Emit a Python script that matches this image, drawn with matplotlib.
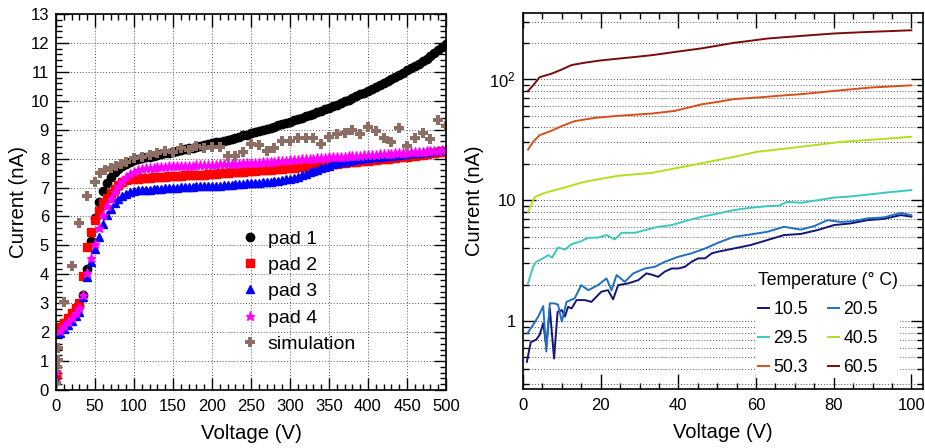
import matplotlib
matplotlib.use("Agg")
import matplotlib.pyplot as plt
from matplotlib.ticker import MultipleLocator, LogLocator, NullFormatter, FuncFormatter
import numpy as np

plt.rcParams['font.family'] = ['Liberation Sans', 'DejaVu Sans']

# ---- left panel: pads vs simulation ----
pad_voltage = list(range(0, 505, 5))

pad1 = [0.50, 2.10, 2.25, 2.40, 2.55, 2.70, 2.90, 3.30, 4.20, 5.15,
        5.95, 6.50, 6.88, 7.15, 7.35, 7.52, 7.65, 7.75, 7.83, 7.90,
        7.95, 7.99, 8.02, 8.05, 8.07, 8.10, 8.13, 8.16, 8.18, 8.21,
        8.24, 8.27, 8.29, 8.32, 8.35, 8.38, 8.41, 8.44, 8.47, 8.50,
        8.53, 8.56, 8.59, 8.62, 8.66, 8.69, 8.73, 8.76, 8.80, 8.83,
        8.87, 8.91, 8.95, 8.99, 9.03, 9.07, 9.11, 9.15, 9.19, 9.23,
        9.28, 9.32, 9.37, 9.41, 9.46, 9.50, 9.55, 9.60, 9.65, 9.70,
        9.76, 9.81, 9.87, 9.92, 9.98, 10.04, 10.10, 10.16, 10.22, 10.28,
        10.35, 10.41, 10.48, 10.55, 10.62, 10.69, 10.76, 10.83, 10.90, 10.97,
        11.05, 11.12, 11.20, 11.28, 11.37, 11.46, 11.55, 11.65, 11.75, 11.86,
        11.97]

pad2 = [0.52, 2.19, 2.33, 2.48, 2.65, 2.82, 3.02, 3.94, 4.96, 5.47,
        5.88, 6.19, 6.45, 6.65, 6.82, 6.95, 7.09, 7.18, 7.25, 7.29,
        7.30, 7.31, 7.32, 7.33, 7.34, 7.35, 7.36, 7.37, 7.38, 7.39,
        7.40, 7.40, 7.41, 7.42, 7.42, 7.43, 7.44, 7.44, 7.45, 7.46,
        7.47, 7.48, 7.49, 7.50, 7.51, 7.52, 7.53, 7.54, 7.55, 7.56,
        7.57, 7.58, 7.59, 7.60, 7.61, 7.62, 7.63, 7.64, 7.65, 7.66,
        7.67, 7.68, 7.70, 7.71, 7.72, 7.74, 7.75, 7.76, 7.78, 7.79,
        7.80, 7.82, 7.83, 7.84, 7.85, 7.87, 7.88, 7.90, 7.91, 7.92,
        7.93, 7.95, 7.96, 7.97, 7.99, 8.00, 8.01, 8.03, 8.04, 8.06,
        8.07, 8.09, 8.10, 8.12, 8.14, 8.16, 8.18, 8.20, 8.22, 8.24,
        8.26]

pad3 = [0.35, 1.98, 2.12, 2.26, 2.40, 2.55, 2.71, 3.23, 3.92, 4.44,
        4.88, 5.30, 5.73, 6.05, 6.26, 6.46, 6.60, 6.70, 6.78, 6.84,
        6.88, 6.90, 6.91, 6.92, 6.93, 6.94, 6.95, 6.96, 6.97, 6.98,
        6.99, 7.00, 7.01, 7.02, 7.03, 7.03, 7.04, 7.04, 7.05, 7.05,
        7.06, 7.06, 7.07, 7.08, 7.09, 7.10, 7.11, 7.12, 7.13, 7.14,
        7.15, 7.16, 7.17, 7.18, 7.19, 7.20, 7.22, 7.24, 7.26, 7.28,
        7.31, 7.34, 7.38, 7.42, 7.47, 7.52, 7.57, 7.62, 7.67, 7.72,
        7.76, 7.80, 7.84, 7.87, 7.90, 7.93, 7.95, 7.97, 7.99, 8.01,
        8.02, 8.04, 8.05, 8.07, 8.08, 8.09, 8.10, 8.12, 8.13, 8.15,
        8.16, 8.18, 8.19, 8.21, 8.22, 8.24, 8.26, 8.27, 8.29, 8.30,
        8.32]

pad4 = [0.65, 2.05, 2.20, 2.35, 2.50, 2.65, 2.85, 3.30, 4.03, 4.55,
        5.05, 5.60, 6.05, 6.37, 6.60, 6.85, 7.05, 7.22, 7.36, 7.47,
        7.55, 7.60, 7.64, 7.66, 7.68, 7.69, 7.70, 7.71, 7.72, 7.73,
        7.74, 7.74, 7.75, 7.75, 7.76, 7.76, 7.77, 7.77, 7.78, 7.78,
        7.79, 7.79, 7.80, 7.80, 7.81, 7.81, 7.82, 7.83, 7.84, 7.84,
        7.85, 7.85, 7.86, 7.87, 7.88, 7.89, 7.90, 7.91, 7.92, 7.93,
        7.94, 7.95, 7.96, 7.97, 7.98, 7.99, 8.00, 8.01, 8.02, 8.03,
        8.04, 8.05, 8.06, 8.06, 8.07, 8.08, 8.09, 8.09, 8.10, 8.11,
        8.12, 8.13, 8.14, 8.15, 8.16, 8.16, 8.17, 8.18, 8.19, 8.20,
        8.21, 8.22, 8.23, 8.23, 8.24, 8.25, 8.26, 8.27, 8.28, 8.29,
        8.30]

sim_voltage = [0, 1, 2, 3, 10, 20, 30, 40, 50, 57, 63, 70, 77, 83, 90,
               100, 110, 120, 130, 140, 150, 160, 170, 180, 190,
               200, 210, 220, 230, 240, 250, 260, 270, 280, 290,
               300, 310, 320, 330, 340, 350, 360, 370, 380, 390,
               400, 410, 420, 430, 440, 450, 460, 470, 480, 490, 500]
sim_current = [0.25, 0.80, 1.05, 1.45, 3.05, 4.29, 5.77, 6.71, 7.18, 7.49,
               7.60, 7.66, 7.73, 7.80, 7.89,
               8.01, 8.06, 8.12, 8.18, 8.27, 8.22, 8.36, 8.31, 8.45, 8.38,
               8.39, 8.40, 8.09, 8.10, 8.24, 8.50, 8.47, 8.25, 8.36, 8.60,
               8.61, 8.70, 8.72, 8.72, 8.50, 8.76, 8.84, 8.88, 8.99, 8.84,
               9.11, 8.96, 8.70, 8.57, 9.06, 8.42, 8.70, 8.88, 8.67, 9.34, 9.13]

# ---- right panel: temperature scan ----
v_105 = [1.0, 2.0, 3.4, 4.3, 5.2, 6.0, 6.9, 8.0, 8.9, 10.0,
         10.8, 11.6, 12.5, 13.8, 15.9, 17.6, 20.2, 21.9, 23.2, 24.5,
         27.1, 29.7, 31.8, 33.5, 34.8, 36.5, 38.3, 40.0, 41.7, 43.4,
         45.1, 46.9, 48.6, 50.3, 54.3, 58.6, 62.9, 67.2, 71.5, 75.8,
         80.1, 84.4, 88.7, 93.0, 97.3, 100]
i_105 = [0.46, 0.67, 0.70, 0.77, 0.96, 0.62, 1.27, 0.49, 1.19, 1.23,
         1.09, 1.31, 1.27, 1.49, 1.49, 1.44, 1.75, 1.80, 1.51, 1.98,
         2.05, 2.18, 2.48, 2.40, 2.32, 2.56, 2.72, 2.72, 2.81, 3.09,
         3.30, 3.30, 3.63, 3.75, 3.98, 4.25, 4.67, 5.14, 5.25, 5.65,
         6.22, 6.42, 6.83, 7.00, 7.52, 7.30]

v_205 = [1.1, 2.6, 4.0, 5.2, 6.0, 6.9, 8.0, 9.0, 10.0, 11.2,
         13.3, 15.0, 16.8, 19.3, 21.5, 22.8, 24.1, 26.2, 28.4, 31.4,
         34.0, 36.5, 40.0, 43.4, 46.9, 50.3, 54.3, 58.6, 62.9, 67.2,
         71.5, 75.0, 78.4, 81.8, 85.0, 88.7, 93.0, 97.3, 100]
i_205 = [0.79, 0.93, 1.10, 1.33, 0.56, 1.40, 1.40, 1.37, 0.99, 1.44,
         1.54, 1.98, 1.80, 1.98, 2.25, 1.80, 2.40, 2.11, 2.48, 2.72,
         2.81, 3.09, 3.40, 3.63, 3.98, 4.45, 4.97, 5.20, 5.47, 6.02,
         5.70, 6.10, 6.83, 6.60, 6.70, 7.06, 7.20, 7.85, 7.50]

v_295 = [1.3, 2.6, 3.4, 5.2, 6.5, 7.5, 9.0, 10.8, 12.5, 14.6,
         16.8, 19.3, 21.5, 23.6, 25.4, 28.8, 31.4, 34.8, 38.3, 41.7,
         46.0, 50.3, 54.3, 58.0, 62.9, 66.0, 68.0, 71.5, 76.0, 80.1,
         84.0, 88.7, 94.0, 100]
i_295 = [2.05, 2.81, 3.09, 3.30, 3.51, 3.35, 4.06, 3.90, 4.33, 4.52,
         4.88, 4.90, 5.14, 4.73, 5.37, 5.37, 5.65, 6.02, 6.22, 6.70,
         7.28, 7.76, 8.27, 8.60, 8.92, 9.00, 9.68, 9.50, 10.0, 10.5,
         10.7, 11.1, 11.6, 12.1]

v_405 = [1.3, 3.0, 5.6, 9.9, 15.9, 24.5, 33.1, 39.1, 45.7, 54.3,
         60.3, 71.5, 81.8, 90.4, 100]
i_405 = [8.0, 10.6, 11.5, 12.5, 14.2, 15.9, 16.8, 18.3, 20.1, 22.8,
         25.1, 27.6, 30.3, 31.7, 33.4]

v_503 = [1.3, 2.6, 4.3, 7.3, 9.9, 13.3, 18.5, 24.5, 33.1, 39.1,
         46.0, 50.3, 54.3, 60.2, 66.0, 72.2, 80.8, 89.4, 100]
i_503 = [26.2, 30.3, 34.5, 37.4, 40.9, 45.0, 47.9, 49.8, 52.0, 54.7,
         62.0, 65.0, 68.5, 70.5, 73.0, 75.5, 80.5, 85.3, 89.0]

v_605 = [1.3, 2.6, 4.3, 7.3, 9.9, 12.5, 15.9, 20.0, 24.5, 29.0,
         33.1, 39.1, 46.0, 50.3, 54.3, 58.6, 62.9, 71.5, 80.1, 88.7, 100]
i_605 = [80, 89, 104, 111, 120, 131, 137, 143, 148, 153,
         158, 168, 180, 190, 200, 208, 217, 228, 239, 246, 254]

temp_labels = ['10.5', '20.5', '29.5', '40.5', '50.3', '60.5']
temp_colors = ['#14147a', '#1f70c0', '#3cc8be', '#b2df1e', '#d6501e', '#7a0c0c']


fig = plt.figure(figsize=(9.25, 4.48), dpi=100)
ax1 = fig.add_axes([56/925, 1 - 390/448, 390/925, 376/448])
ax2 = fig.add_axes([523/925, 1 - 389/448, 400/925, 376/448])

grid_kw = dict(color='#555555', linestyle=(0, (1, 2)), linewidth=0.7)

# ---- Left panel ----
ms = 6
ax1.plot(pad_voltage, pad1, 'o', color='black', ms=ms, label='pad 1')
ax1.plot(pad_voltage, pad2, 's', color='#ff0000', ms=ms, label='pad 2')
ax1.plot(pad_voltage, pad3, '^', color='#0000ff', ms=ms, label='pad 3')
ax1.plot(pad_voltage, pad4, '*', color='#ff00ff', ms=6.5, label='pad 4')
ax1.plot(sim_voltage, sim_current, 'P', color='#8c6e64', ms=7, mew=0, label='simulation')

ax1.set_xlim(0, 500)
ax1.set_ylim(0, 13)
ax1.xaxis.set_major_locator(MultipleLocator(50))
ax1.xaxis.set_minor_locator(MultipleLocator(10))
ax1.yaxis.set_major_locator(MultipleLocator(1))
ax1.yaxis.set_minor_locator(MultipleLocator(0.2))
ax1.grid(True, which='major', **grid_kw)
ax1.set_xlabel('Voltage (V)', fontsize=14.7, labelpad=7)
ax1.set_ylabel('Current (nA)', fontsize=14.7, labelpad=2)

ax1.legend(loc='center left', bbox_to_anchor=(0.472, 0.262), frameon=False,
           fontsize=14, handletextpad=0.43, labelspacing=0.45,
           handlelength=1.0, borderpad=0, borderaxespad=0)

# ---- Right panel ----
series = [(v_105, i_105), (v_205, i_205), (v_295, i_295),
          (v_405, i_405), (v_503, i_503), (v_605, i_605)]
for (v, i), lab, col in zip(series, temp_labels, temp_colors):
    ax2.plot(v, i, '-', color=col, lw=1.4, label=lab)

ax2.set_yscale('log')
ax2.set_xlim(0, 103)
ax2.set_ylim(0.274, 353)
ax2.xaxis.set_major_locator(MultipleLocator(20))
ax2.xaxis.set_minor_locator(MultipleLocator(5))
ax2.yaxis.set_major_locator(LogLocator(base=10, numticks=10))
ax2.yaxis.set_minor_locator(LogLocator(base=10, subs=np.arange(2, 10), numticks=20))
ax2.yaxis.set_minor_formatter(NullFormatter())
ax2.yaxis.set_major_formatter(FuncFormatter(
    lambda y, _: {1: '1', 10: '10', 100: r'$\mathregular{10^{2}}$'}.get(int(round(y)), '')))
ax2.yaxis.grid(True, which='both', **grid_kw)
ax2.set_xlabel('Voltage (V)', fontsize=14.5, labelpad=7)
ax2.set_ylabel('Current (nA)', fontsize=14.5, labelpad=4)

# row-wise order in the legend: 10.5 20.5 / 29.5 40.5 / 50.3 60.5
handles, labels = ax2.get_legend_handles_labels()
order = [0, 2, 4, 1, 3, 5]
leg = ax2.legend([handles[k] for k in order], [labels[k] for k in order],
                 loc='lower right', bbox_to_anchor=(0.9425, 0.03), ncol=2,
                 title='Temperature (° C)', title_fontsize=12.7, fontsize=12.7,
                 alignment='left',
                 frameon=True, fancybox=False, framealpha=1, edgecolor='none',
                 handlelength=0.63, handletextpad=0.23, columnspacing=1.14,
                 labelspacing=0.68, borderpad=0.1, borderaxespad=0)
leg.get_frame().set_facecolor('white')

for ax in (ax1, ax2):
    ax.tick_params(which='both', direction='in', top=True, right=True, labelsize=12)
    ax.tick_params(which='major', length=9, width=1.0, pad=5)
    ax.tick_params(which='minor', length=4.5, width=1.0)
    ax.tick_params(axis='x', which='major', pad=6.5)
    for s in ax.spines.values():
        s.set_linewidth(1.2)
ax2.tick_params(axis='x', which='major', length=11)

fig.savefig('out.png', dpi=100)
